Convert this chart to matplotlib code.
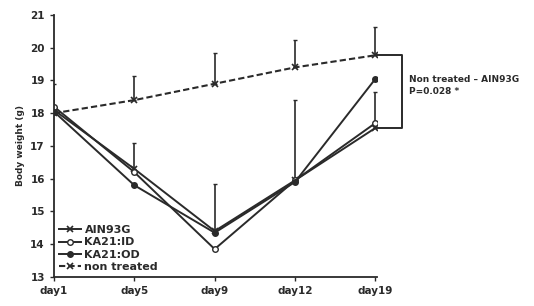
import numpy as np
import matplotlib
matplotlib.use("Agg")
import matplotlib.pyplot as plt

days = ["day1", "day5", "day9", "day12", "day19"]
ain93g = [18.1, 16.3, 14.4, 15.95, 17.55]
ka21_id = [18.2, 16.2, 13.85, 15.95, 17.7]
ka21_od = [18.05, 15.8, 14.35, 15.9, 19.05]
non_treated = [18.0, 18.4, 18.9, 19.4, 19.77]
# upper error bar ends
nt_err = [0.0, 0.75, 0.95, 0.85, 0.85]
low_err = [0.8, 0.8, 1.45, 2.45, 1.1]

x = np.arange(len(days))
col = "#2a2a2a"

fig = plt.figure(figsize=(5.34, 3.06), dpi=100)
ax = fig.add_axes([0.101, 0.095, 0.605, 0.856])

ax.errorbar(x, non_treated, yerr=[np.zeros(5), nt_err], fmt="none", ecolor=col, elinewidth=1.2, capsize=1.5)
ax.errorbar(x, ain93g, yerr=[np.zeros(5), low_err], fmt="none", ecolor=col, elinewidth=1.2, capsize=1.5)

ax.plot(x, ain93g, color=col, lw=1.4, marker="x", ms=4, mew=1.2, label="AIN93G")
ax.plot(x, ka21_id, color=col, lw=1.4, marker="o", ms=4, mfc="white", mew=1.0, label="KA21:ID")
ax.plot(x, ka21_od, color=col, lw=1.4, marker="o", ms=4, mfc=col, label="KA21:OD")
ax.plot(x, non_treated, color=col, lw=1.5, ls=(0, (3, 1.5)), marker="x", ms=4, mew=1.2, label="non treated")

# significance bracket
ax.plot([4, 4.33, 4.33, 4], [non_treated[4], non_treated[4], ain93g[4], ain93g[4]],
        color=col, lw=1.4, clip_on=False)
ax.text(4.42, 18.85, "Non treated \u2013 AIN93G\nP=0.028 *", fontsize=6.5, fontweight="bold",
        color=col, va="center", ha="left", linespacing=1.5)

ax.set_xlim(0, 4.02)
ax.set_ylim(13, 21)
ax.set_yticks(range(13, 22))
ax.set_xticks(x)
ax.set_xticklabels(days)
for s in ["top", "right"]:
    ax.spines[s].set_visible(False)
for s in ["left", "bottom"]:
    ax.spines[s].set_linewidth(1.3)
    ax.spines[s].set_color(col)
ax.tick_params(axis="both", labelsize=7.5, colors=col, length=3, width=1)
for lab in ax.get_xticklabels() + ax.get_yticklabels():
    lab.set_fontweight("bold")
ax.set_ylabel("Body weight (g)", fontsize=6.5, fontweight="bold", color=col, labelpad=4)

leg = ax.legend(loc="lower left", frameon=False, handlelength=2.0,
                handletextpad=0.3, labelspacing=0.2, borderaxespad=0.05,
                prop={"weight": "bold", "size": 8})
for t in leg.get_texts():
    t.set_color(col)

fig.savefig("out.png", dpi=100)
